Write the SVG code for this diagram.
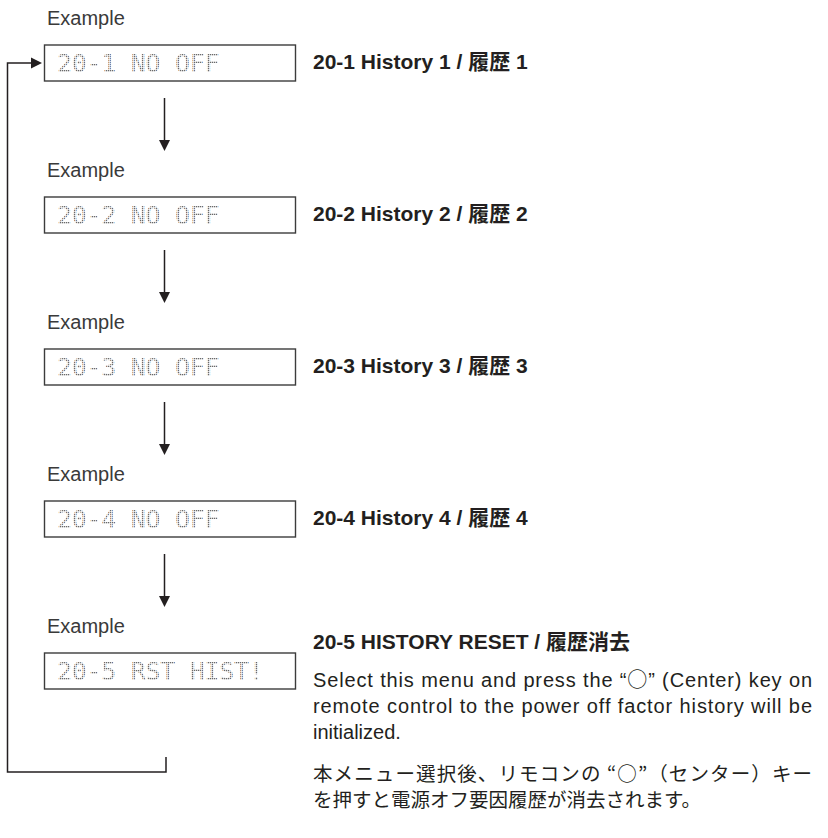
<svg xmlns="http://www.w3.org/2000/svg" width="828" height="838" viewBox="0 0 828 838">
<style>
.ex{font-family:"Liberation Sans",Arial,sans-serif;font-size:20px;fill:#3a3a3a}
.box{fill:#fff;stroke:#3c3c3c;stroke-width:1.4}
.lcd{font-family:"DejaVu Sans Mono","Liberation Mono",monospace;font-size:25px;letter-spacing:-0.3px;fill:url(#dots)}
.hd{font-family:"Liberation Sans","Noto Sans CJK JP",sans-serif;font-size:21px;font-weight:bold;fill:#231f20}
.body{font-family:"Liberation Sans","Noto Sans CJK JP",sans-serif;font-size:20px;fill:#231f20}
.circ{font-family:"Noto Sans CJK JP",sans-serif}
.jp{font-family:"Noto Sans CJK JP",sans-serif;font-size:19.5px;fill:#231f20}
.con{fill:none;stroke:#231f20;stroke-width:1.5}
</style>
<defs>
<pattern id="dots" width="2" height="2" patternUnits="userSpaceOnUse">
<rect x="0" y="0" width="1.3" height="1.3" fill="#6a6a6a"/>
</pattern>
<marker id="ah" markerUnits="userSpaceOnUse" markerWidth="11" markerHeight="12" viewBox="0 0 11 12" refX="0" refY="6" orient="auto">
<path d="M0,0.5 L11,6 L0,11.5 Z" fill="#231f20"/>
</marker>
</defs>
<rect width="828" height="838" fill="#fff"/>

<g id="node1">
<text class="ex" x="47" y="25">Example</text>
<rect class="box" x="44.5" y="45" width="251" height="36"/>
<text class="lcd" x="57" y="72">20-1 NO OFF</text>
<text class="hd" x="313" y="69">20-1 History 1 / 履歴 1</text>
</g>
<g id="node2">
<text class="ex" x="47" y="177">Example</text>
<rect class="box" x="44.5" y="197" width="251" height="36"/>
<text class="lcd" x="57" y="224">20-2 NO OFF</text>
<text class="hd" x="313" y="221">20-2 History 2 / 履歴 2</text>
</g>
<g id="node3">
<text class="ex" x="47" y="329">Example</text>
<rect class="box" x="44.5" y="349" width="251" height="36"/>
<text class="lcd" x="57" y="376">20-3 NO OFF</text>
<text class="hd" x="313" y="373">20-3 History 3 / 履歴 3</text>
</g>
<g id="node4">
<text class="ex" x="47" y="481">Example</text>
<rect class="box" x="44.5" y="501" width="251" height="36"/>
<text class="lcd" x="57" y="528">20-4 NO OFF</text>
<text class="hd" x="313" y="525">20-4 History 4 / 履歴 4</text>
</g>
<g id="node5">
<text class="ex" x="47" y="633">Example</text>
<rect class="box" x="44.5" y="653" width="251" height="36"/>
<text class="lcd" x="57" y="680">20-5 RST HIST!</text>
<text class="hd" x="313" y="649">20-5 HISTORY RESET / 履歴消去</text>
<text class="body" x="313" y="687" textLength="499" lengthAdjust="spacing">Select this menu and press the “<tspan class="circ">○</tspan>” (Center) key on</text>
<text class="body" x="313" y="713" textLength="499" lengthAdjust="spacing">remote control to the power off factor history will be</text>
<text class="body" x="313" y="739">initialized.</text>
<text class="jp" x="313" y="781" textLength="499" lengthAdjust="spacing">本メニュー選択後、リモコンの “○”（センター）キー</text>
<text class="jp" x="313" y="807">を押すと電源オフ要因履歴が消去されます。</text>
</g>

<g id="connectors">
<line class="con" x1="164.5" y1="98" x2="164.5" y2="140" marker-end="url(#ah)"/>
<line class="con" x1="164.5" y1="250" x2="164.5" y2="292" marker-end="url(#ah)"/>
<line class="con" x1="164.5" y1="402" x2="164.5" y2="444" marker-end="url(#ah)"/>
<line class="con" x1="164.5" y1="554" x2="164.5" y2="596" marker-end="url(#ah)"/>
<polyline class="con" points="166,757 166,772 7.5,772 7.5,63 31,63" marker-end="url(#ah)"/>
</g>
</svg>
